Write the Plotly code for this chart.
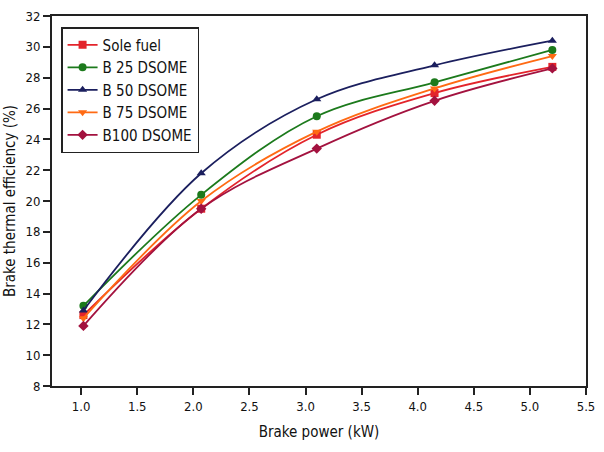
import plotly.graph_objects as go

brake_power = [1.02, 2.07, 3.1, 4.15, 5.2]
series_names = ["Sole fuel", "B 25 DSOME", "B 50 DSOME", "B 75 DSOME", "B100 DSOME"]
sole_fuel = [12.6, 19.5, 24.3, 27.0, 28.7]
b25 = [13.2, 20.4, 25.5, 27.7, 29.8]
b50 = [12.9, 21.8, 26.6, 28.8, 30.4]
b75 = [12.4, 20.0, 24.5, 27.3, 29.4]
b100 = [11.9, 19.5, 23.4, 26.5, 28.6]
x_ticks = [1.0, 1.5, 2.0, 2.5, 3.0, 3.5, 4.0, 4.5, 5.0, 5.5]
y_ticks = [8, 10, 12, 14, 16, 18, 20, 22, 24, 26, 28, 30, 32]

values = [sole_fuel, b25, b50, b75, b100]
colors = ["#e3242b", "#1c7a1c", "#1b1f5e", "#ff6a13", "#a3123f"]
symbols = ["square", "circle", "triangle-up", "triangle-down", "diamond"]

FONT = "DejaVu Sans Condensed, Liberation Sans Narrow, Liberation Sans, Arial, sans-serif"

fig = go.Figure()
for name, vals, col, sym in zip(series_names, values, colors, symbols):
    fig.add_trace(go.Scatter(
        x=brake_power, y=vals, name=name, mode="lines+markers",
        line=dict(color=col, width=1.8, shape="spline", smoothing=1.0),
        marker=dict(symbol=sym, size=8, color=col),
    ))

fig.update_layout(
    width=604, height=452,
    margin=dict(l=51, r=9, t=14, b=66),
    paper_bgcolor="white", plot_bgcolor="white",
    font=dict(family=FONT, color="#111111", size=13),
    showlegend=True,
    legend=dict(
        x=0.017, y=0.97, xanchor="left", yanchor="top",
        bordercolor="#222222", borderwidth=1.5, bgcolor="white",
        font=dict(family=FONT, size=15, color="#111111"),
        tracegroupgap=0,
    ),
)
fig.update_xaxes(
    range=[0.74, 5.5], tickmode="array", tickvals=x_ticks,
    ticktext=[f"{v:.1f}" for v in x_ticks],
    ticks="outside", ticklen=7, tickwidth=1.5, tickcolor="#222222",
    showline=True, linecolor="#222222", linewidth=2, mirror=True,
    showgrid=False, zeroline=False,
    tickfont=dict(family=FONT, size=13),
    title=dict(text="Brake power (kW)", font=dict(family=FONT, size=15), standoff=14),
)
fig.update_yaxes(
    range=[8, 32], tickmode="array", tickvals=y_ticks,
    ticks="outside", ticklen=7, tickwidth=1.5, tickcolor="#222222",
    showline=True, linecolor="#222222", linewidth=2, mirror=True,
    showgrid=False, zeroline=False,
    tickfont=dict(family=FONT, size=13),
    title=dict(text="Brake thermal efficiency (%)", font=dict(family=FONT, size=15), standoff=6),
)

fig.write_html("out.html")
